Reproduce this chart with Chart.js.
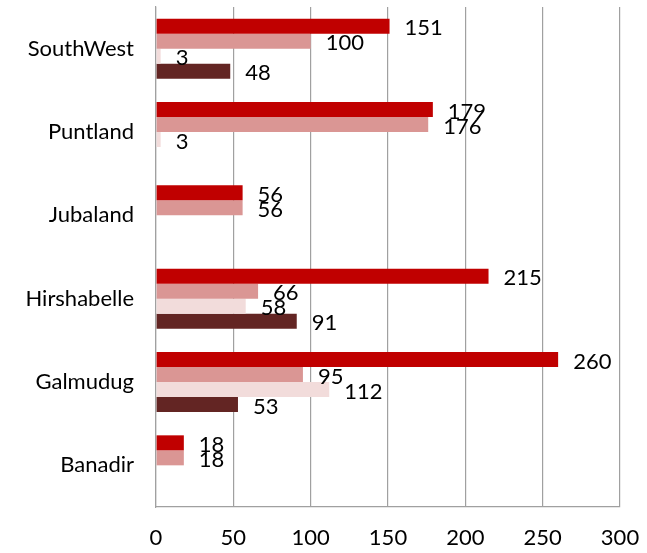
<!DOCTYPE html>
<html lang="en">
<head>
    <meta charset="UTF-8">
    <title>Regions chart</title>
    <script src="https://cdn.jsdelivr.net/npm/chart.js"></script>
    <style>
        body { margin: 0; background: #fff; }
        #wrap { width: 647px; height: 553px; }
    </style>
</head>
<body>
    <div id="wrap"><canvas id="chart" width="647" height="553"></canvas></div>

    <script>
        // Categories top to bottom
        const regions = ['SouthWest', 'Puntland', 'Jubaland', 'Hirshabelle', 'Galmudug', 'Banadir'];

        // Four series (null = no bar)
        const series1 = [151, 179, 56, 215, 260, 18];
        const series2 = [100, 176, 56, 66, 95, 18];
        const series3 = [3, 3, null, 58, 112, null];
        const series4 = [48, null, null, 91, 53, null];

        const xTicks = [0, 50, 100, 150, 200, 250, 300];

        const fontFamily = 'Lato, "Open Sans", sans-serif';

        // no automatic label padding, the plot area is set by layout.padding
        function noPad(scale) {
            scale.paddingTop = 0;
            scale.paddingBottom = 0;
            scale.paddingLeft = 0;
            scale.paddingRight = 0;
        }

        // Value labels drawn just after the end of each bar
        const barLabels = {
            id: 'barLabels',
            afterDatasetsDraw(chart) {
                const ctx = chart.ctx;
                ctx.save();
                ctx.font = '22px ' + fontFamily;
                ctx.fillStyle = '#000';
                ctx.textAlign = 'left';
                ctx.textBaseline = 'middle';
                chart.data.datasets.forEach((ds, i) => {
                    chart.getDatasetMeta(i).data.forEach((bar, j) => {
                        const v = ds.data[j];
                        if (v === null) return;
                        ctx.fillText(String(v), bar.x + 15, bar.y + 2);
                    });
                });
                ctx.restore();
            }
        };

        new Chart(document.getElementById('chart'), {
            type: 'bar',
            data: {
                labels: regions,
                datasets: [
                    { data: series1, backgroundColor: '#C00000' },
                    { data: series2, backgroundColor: '#DA9694' },
                    { data: series3, backgroundColor: '#F2DCDB' },
                    { data: series4, backgroundColor: '#632523' }
                ]
            },
            options: {
                indexAxis: 'y',
                responsive: false,
                animation: false,
                datasets: {
                    bar: { categoryPercentage: 0.72, barPercentage: 1 }
                },
                layout: { padding: { top: 7, right: 27, left: 0, bottom: 0 } },
                scales: {
                    x: {
                        min: 0,
                        max: 300,
                        afterBuildTicks(scale) {
                            scale.ticks = xTicks.map(v => ({ value: v }));
                        },
                        afterFit(scale) { scale.height = 46; noPad(scale); },
                        grid: { color: '#A0A0A0', lineWidth: 1.2, drawTicks: false },
                        border: { color: '#A0A0A0', width: 1.2 },
                        ticks: {
                            color: '#000',
                            padding: 18,
                            maxRotation: 0,
                            font: { family: fontFamily, size: 22 }
                        }
                    },
                    y: {
                        afterFit(scale) { scale.width = 156; noPad(scale); },
                        grid: { display: false, drawTicks: false },
                        border: { color: '#A0A0A0', width: 1.2 },
                        ticks: {
                            color: '#000',
                            padding: 22,
                            font: { family: fontFamily, size: 22 }
                        }
                    }
                },
                plugins: {
                    legend: { display: false },
                    tooltip: { enabled: false }
                }
            },
            plugins: [barLabels]
        });
    </script>
</body>
</html>
